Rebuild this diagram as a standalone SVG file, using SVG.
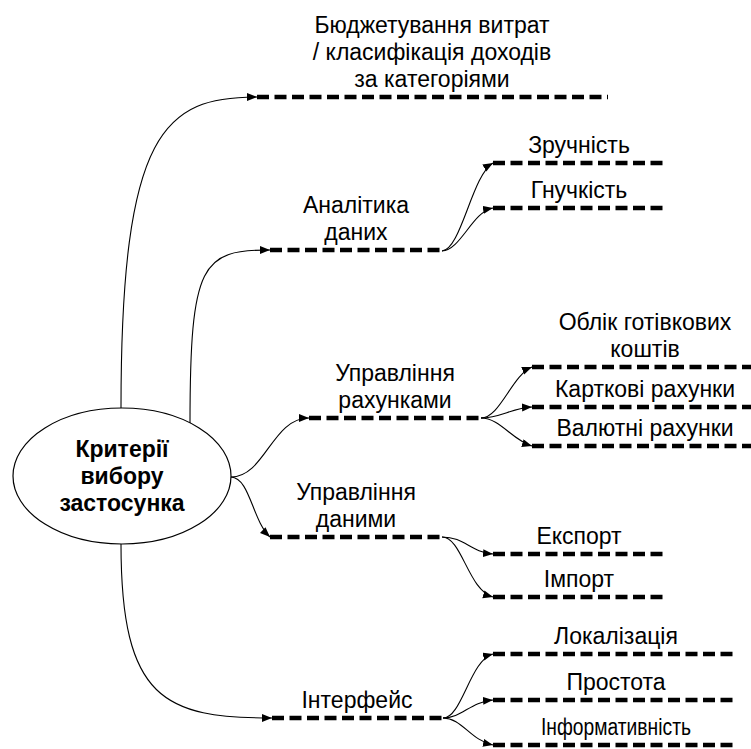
<svg xmlns="http://www.w3.org/2000/svg" width="751" height="749" viewBox="0 0 751 749">
<defs>
<marker id="arr" markerUnits="userSpaceOnUse" markerWidth="11" markerHeight="9" refX="10" refY="4" orient="auto">
<path d="M0,0 L10,4 L0,8 z" fill="#000"/>
</marker>
<style>
.c{fill:none;stroke:#000;stroke-width:1.1;marker-end:url(#arr)}
.d{fill:none;stroke:#000;stroke-width:4.5;stroke-dasharray:12 5.5}
.t{font-family:"Liberation Sans",Arial,sans-serif;font-size:23px;fill:#000;text-anchor:middle}
.b{font-family:"Liberation Sans",Arial,sans-serif;font-size:23px;font-weight:bold;fill:#000;text-anchor:middle}
</style>
</defs>
<rect width="751" height="749" fill="#fff"/>
<g id="connectors">
<path class="c" d="M121,408 C121,130 165,97 257,97"/>
<path class="c" d="M190,424 C190,262 202,250 270,250"/>
<path class="c" d="M231,477 C265,477 272,418 309,418"/>
<path class="c" d="M231,477 C250,478 252,520 270,537"/>
<path class="c" d="M121,544 C121,700 165,718 272,718"/>
<path class="c" d="M442,251 C461,250 472,175 493,163"/>
<path class="c" d="M442,251 C461,250 472,212 493,208"/>
<path class="c" d="M481,418 C500,418 512,375 532,367"/>
<path class="c" d="M481,418 C500,418 512,408 532,407"/>
<path class="c" d="M481,418 C500,418 512,440 532,446"/>
<path class="c" d="M442,537 C465,537 470,552 493,554"/>
<path class="c" d="M442,537 C462,537 468,590 493,597"/>
<path class="c" d="M443,718 C462,718 470,660 493,654"/>
<path class="c" d="M443,718 C462,718 470,702 493,700"/>
<path class="c" d="M443,718 C462,718 470,740 493,745"/>
</g>
<g id="root">
<ellipse cx="122" cy="476" rx="109" ry="68" fill="#fff" stroke="#000" stroke-width="1.2"/>
<text class="b" x="122" y="457">Критерії</text>
<text class="b" x="122" y="484">вибору</text>
<text class="b" x="122" y="511">застосунка</text>
</g>
<g id="budget">
<line class="d" x1="257" y1="97" x2="608" y2="97"/>
<text class="t" x="432" y="33">Бюджетування витрат</text>
<text class="t" x="432" y="60">/ класифікація доходів</text>
<text class="t" x="432" y="87">за категоріями</text>
</g>
<g id="analytics">
<line class="d" x1="270" y1="250" x2="442" y2="250"/>
<text class="t" x="356" y="213">Аналітика</text>
<text class="t" x="356" y="240">даних</text>
</g>
<g id="convenience">
<line class="d" x1="493" y1="163" x2="665" y2="163"/>
<text class="t" x="579" y="153">Зручність</text>
</g>
<g id="flexibility">
<line class="d" x1="493" y1="208" x2="665" y2="208"/>
<text class="t" x="579" y="198">Гнучкість</text>
</g>
<g id="accounts">
<line class="d" x1="309" y1="418" x2="481" y2="418"/>
<text class="t" x="395" y="381">Управління</text>
<text class="t" x="395" y="408">рахунками</text>
</g>
<g id="cash">
<line class="d" x1="532" y1="367" x2="760" y2="367"/>
<text class="t" x="645" y="330">Облік готівкових</text>
<text class="t" x="645" y="357">коштів</text>
</g>
<g id="cards">
<line class="d" x1="532" y1="407" x2="760" y2="407"/>
<text class="t" x="645" y="397">Карткові рахунки</text>
</g>
<g id="currency">
<line class="d" x1="532" y1="446" x2="760" y2="446"/>
<text class="t" x="645" y="436">Валютні рахунки</text>
</g>
<g id="data">
<line class="d" x1="270" y1="537" x2="442" y2="537"/>
<text class="t" x="356" y="500">Управління</text>
<text class="t" x="356" y="527">даними</text>
</g>
<g id="export">
<line class="d" x1="493" y1="554" x2="665" y2="554"/>
<text class="t" x="579" y="544">Експорт</text>
</g>
<g id="import">
<line class="d" x1="493" y1="597" x2="665" y2="597"/>
<text class="t" x="579" y="587">Імпорт</text>
</g>
<g id="interface">
<line class="d" x1="272" y1="718" x2="443" y2="718"/>
<text class="t" x="357" y="708">Інтерфейс</text>
</g>
<g id="localization">
<line class="d" x1="493" y1="654" x2="737" y2="654"/>
<text class="t" x="616" y="644">Локалізація</text>
</g>
<g id="simplicity">
<line class="d" x1="493" y1="700" x2="737" y2="700"/>
<text class="t" x="616" y="690">Простота</text>
</g>
<g id="informativeness">
<line class="d" x1="493" y1="745" x2="737" y2="745"/>
<text class="t" x="616" y="735" textLength="150" lengthAdjust="spacingAndGlyphs">Інформативність</text>
</g>
</svg>
